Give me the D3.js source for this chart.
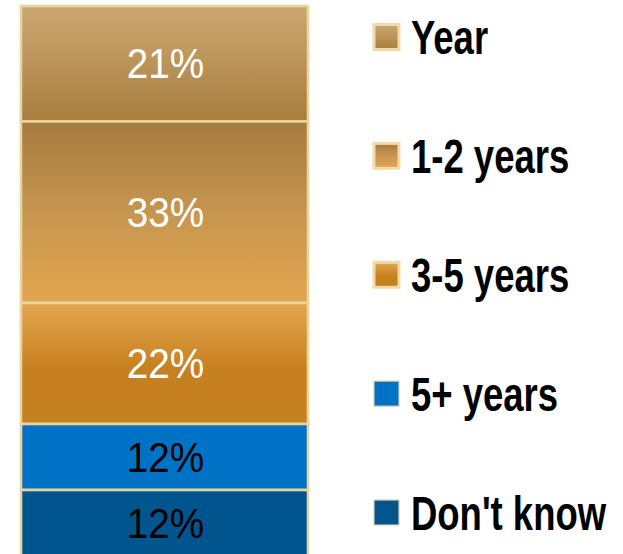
<!DOCTYPE html>
<html>
<head>
<meta charset="utf-8">
<script src="https://cdn.jsdelivr.net/npm/d3@7"></script>
<style>
  html, body { margin: 0; padding: 0; background: #ffffff; }
  svg { display: block; }
</style>
</head>
<body>
<svg id="chart" width="623" height="554"></svg>
<script>
// ---- data ----
const categories = ["Year", "1-2 years", "3-5 years", "5+ years", "Don't know"];
const values = [21, 33, 22, 12, 12];
const labels = ["21%", "33%", "22%", "12%", "12%"];
const labelColors = ["#ffffff", "#ffffff", "#ffffff", "#000000", "#000000"];
const gradients = [
  [["0%", "#c9a770"], ["35%", "#c09a60"], ["100%", "#a77d40"]],
  [["0%", "#a67a3e"], ["50%", "#c69650"], ["100%", "#e3a64f"]],
  [["0%", "#e3a650"], ["55%", "#c6801f"], ["100%", "#c47f20"]],
  [["0%", "#0072c6"], ["100%", "#0072c6"]],
  [["0%", "#00558f"], ["100%", "#00558f"]]
];

const svg = d3.select("#chart");
const defs = svg.append("defs");
gradients.forEach((stops, i) => {
  const g = defs.append("linearGradient")
    .attr("id", "grad" + i)
    .attr("x1", 0).attr("y1", 0).attr("x2", 0).attr("y2", 1);
  stops.forEach(s => g.append("stop").attr("offset", s[0]).attr("stop-color", s[1]));
});

const x = d3.scaleBand().domain(["all"]).range([21, 308]).padding(0);
const y = d3.scaleLinear().domain([0, 100]).range([6, 556]);

const ends = d3.cumsum(values);
const segs = categories.map((c, i) => ({
  cat: c, i, v: values[i], y0: ends[i] - values[i], y1: ends[i]
}));

const bar = svg.append("g");
bar.selectAll("rect")
  .data(segs)
  .join("rect")
  .attr("x", x("all"))
  .attr("width", x.bandwidth())
  .attr("y", d => y(d.y0))
  .attr("height", d => y(d.y1) - y(d.y0))
  .attr("fill", d => `url(#grad${d.i})`)
  .attr("stroke", "#ead39e")
  .attr("stroke-width", 2.6);

bar.selectAll("text")
  .data(segs)
  .join("text")
  .attr("transform", d => `translate(${x("all") + x.bandwidth() / 2 + 1},${(y(d.y0) + y(d.y1)) / 2}) scale(0.9,1)`)
  .attr("text-anchor", "middle")
  .attr("dominant-baseline", "central")
  .attr("font-family", "'Liberation Sans', Arial, sans-serif")
  .attr("font-size", 43)
  .attr("fill", d => labelColors[d.i])
  .text(d => labels[d.i]);

// ---- legend ----
const ly = d3.scalePoint().domain(categories).range([37, 512.5]);
const leg = svg.append("g")
  .selectAll("g")
  .data(segs)
  .join("g")
  .attr("transform", d => `translate(0,${ly(d.cat)})`);

leg.append("rect")
  .attr("x", 374)
  .attr("y", -12.5)
  .attr("width", 25)
  .attr("height", 25)
  .attr("fill", d => `url(#grad${d.i})`)
  .attr("stroke", d => d.i < 3 ? "#efdcaa" : "#d8cfa8")
  .attr("stroke-width", d => d.i < 3 ? 3 : 1.2);

leg.append("text")
  .attr("transform", "translate(411,17) scale(0.76,1)")
  .attr("font-family", "'Liberation Sans', Arial, sans-serif")
  .attr("font-weight", "bold")
  .attr("font-size", 48)
  .attr("fill", "#000000")
  .text(d => d.cat);
</script>
</body>
</html>
